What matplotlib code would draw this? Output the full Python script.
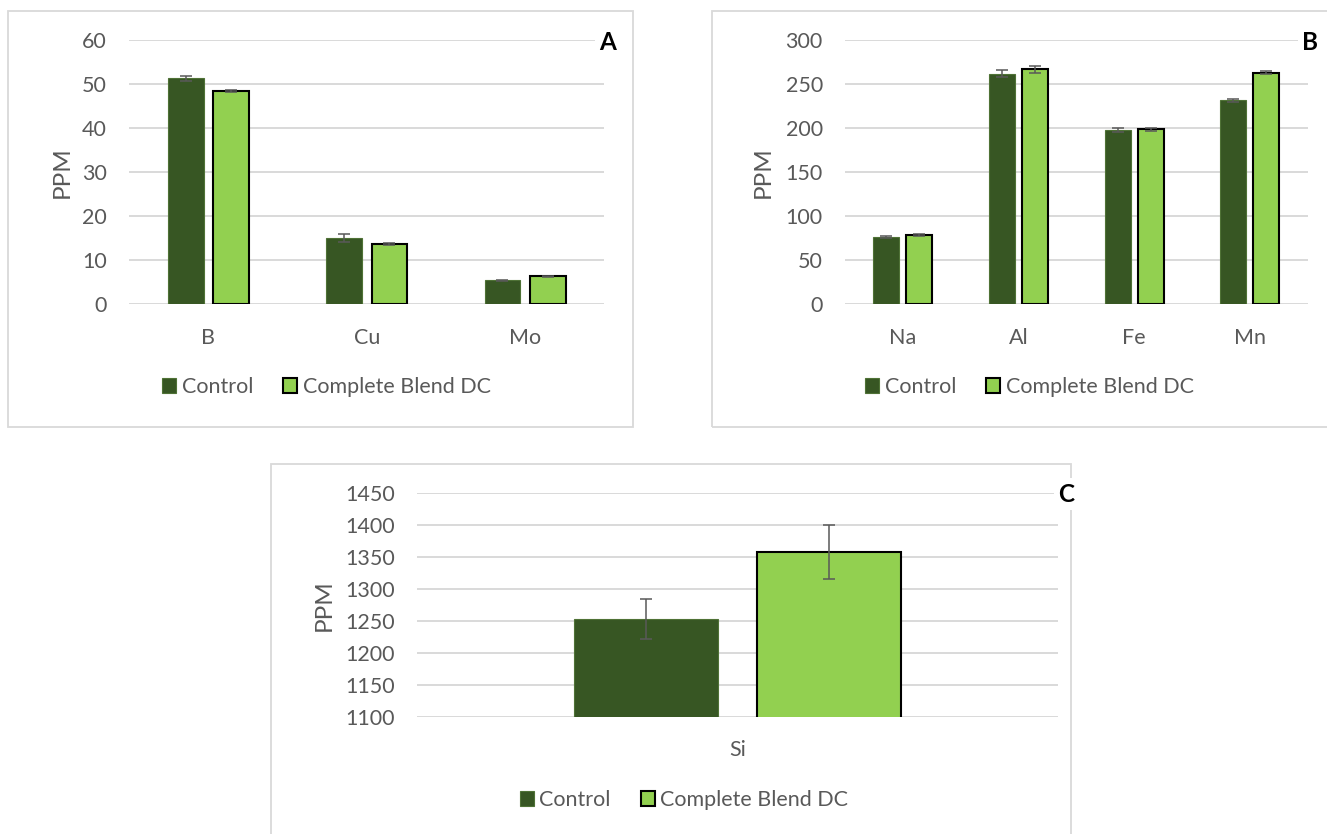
import numpy as np
import matplotlib
matplotlib.use("Agg")
import matplotlib.pyplot as plt
from matplotlib.patches import Rectangle

plt.rcParams['font.family'] = ['Lato', 'DejaVu Sans']

# Panel A: micronutrients
cats_a = ['B', 'Cu', 'Mo']
control_a = [51.3, 15.0, 5.4]
blend_a = [48.4, 13.6, 6.3]
control_err_a = [0.6, 0.95, 0.1]
blend_err_a = [0.25, 0.3, 0.1]
ticks_a = [0, 10, 20, 30, 40, 50, 60]

# Panel B: other metals
cats_b = ['Na', 'Al', 'Fe', 'Mn']
control_b = [76.0, 261.7, 197.7, 231.5]
blend_b = [78.4, 266.5, 198.5, 262.8]
control_err_b = [1.5, 4.2, 2.5, 1.5]
blend_err_b = [1.5, 4.3, 2.0, 2.0]
ticks_b = [0, 50, 100, 150, 200, 250, 300]

# Panel C: silicon
cats_c = ['Si']
control_c = [1253.0]
blend_c = [1358.5]
control_err_c = [31.0]
blend_err_c = [42.0]
ticks_c = [1100, 1150, 1200, 1250, 1300, 1350, 1400, 1450]

series_names = ['Control', 'Complete Blend DC']
DARK = '#375623'
LIGHT = '#92D050'
TEXT = '#595959'
GRID = '#d9d9d9'

W, H = 1327, 834
fig = plt.figure(figsize=(W / 100, H / 100), dpi=100)


def px_axes(x0, x1, y0, y1):
    return fig.add_axes([x0 / W, 1 - y1 / H, (x1 - x0) / W, (y1 - y0) / H])


def panel(ax, cats, ctrl, blend, cerr, berr, ticks, ylab_x):
    x = np.arange(len(cats))
    width = 0.226
    off = 0.143
    ekw = dict(ecolor=TEXT, elinewidth=1.1, capsize=4.6, capthick=1.1)
    b1 = ax.bar(x - off, ctrl, width, color=DARK, edgecolor='#4f7236',
                linewidth=0.8, yerr=cerr, error_kw=ekw, label=series_names[0], zorder=3)
    b2 = ax.bar(x + off, blend, width, color=LIGHT, edgecolor='black',
                linewidth=1.5, yerr=berr, error_kw=ekw, label=series_names[1], zorder=3)
    ax.set_xlim(-0.5, len(cats) - 0.5)
    ax.set_ylim(ticks[0], ticks[-1])
    ax.set_yticks(ticks)
    ax.set_xticks(x)
    ax.set_xticklabels(cats)
    ax.yaxis.grid(True, color=GRID, linewidth=1.4, zorder=0)
    ax.set_axisbelow(True)
    for s in ax.spines.values():
        s.set_visible(False)
    ax.tick_params(axis='y', length=0, pad=16, labelsize=15.5, labelcolor=TEXT)
    ax.tick_params(axis='x', length=0, pad=17, labelsize=15.5, labelcolor=TEXT)
    ax.set_ylabel('PPM', fontsize=17.5, color=TEXT, va='center')
    ax.yaxis.set_label_coords(ylab_x, 0.5)
    return b1, b2


def legend(handles, cx, cy):
    fig.legend(handles, series_names, loc='center', bbox_to_anchor=(cx / W, 1 - cy / H),
               ncol=2, frameon=False, fontsize=15.5, labelcolor=TEXT,
               handlelength=0.65, handleheight=0.65, handletextpad=0.25,
               columnspacing=1.4, borderaxespad=0)


# Panel frames
for (x0, y0, x1, y1) in [(8, 11, 633, 427), (712, 11, 1335, 427), (271, 464, 1071, 845)]:
    fig.patches.append(Rectangle((x0 / W, 1 - y1 / H), (x1 - x0) / W, (y1 - y0) / H,
                                 transform=fig.transFigure, fill=False,
                                 edgecolor=GRID, linewidth=1.3, zorder=0))

ax_a = px_axes(129.3, 604.3, 40, 304)
h = panel(ax_a, cats_a, control_a, blend_a, control_err_a, blend_err_a, ticks_a, -0.142)
legend(h, 326.5, 387)

ax_b = px_axes(845, 1307.7, 40, 304)
h = panel(ax_b, cats_b, control_b, blend_b, control_err_b, blend_err_b, ticks_b, -0.177)
legend(h, 1029.5, 387)

ax_c = px_axes(417.3, 1057.7, 493.3, 716.7)
h = panel(ax_c, cats_c, control_c, blend_c, control_err_c, blend_err_c, ticks_c, -0.146)
legend(h, 684, 800)

# Panel letters
for lab, (lx, ly) in zip(['A', 'B', 'C'], [(608, 42), (1310, 42), (1066, 494)]):
    fig.text(lx / W, 1 - ly / H, lab, ha='center', va='center', fontsize=17.5,
             fontweight='bold', color='black',
             bbox=dict(facecolor='white', edgecolor='none', pad=3))

fig.savefig('out.png', dpi=100, facecolor='white')
